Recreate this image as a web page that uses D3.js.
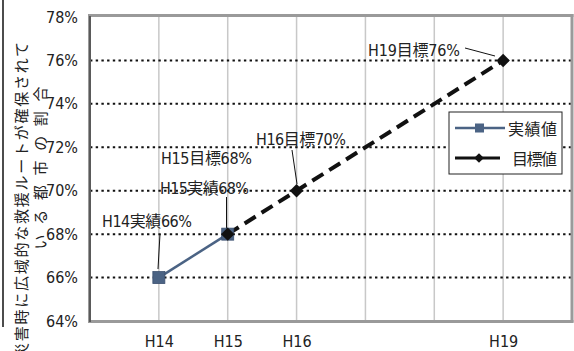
<!DOCTYPE html>
<html><head><meta charset="utf-8">
<script src="https://cdn.jsdelivr.net/npm/d3@7"></script>
<style>
body{margin:0;background:#fff;}
svg{display:block;}
text{font-family:"Liberation Sans Narrow","DejaVu Sans Condensed","Noto Sans CJK JP",sans-serif;fill:#222;}
.jp{font-family:"Noto Sans CJK JP",sans-serif;}
</style>
</head><body>
<svg id="c" width="574" height="351"></svg>
<script>
const categories = ["H14","H15","H16","H17","H18","H19"];
const tickLabels = ["H14","H15","H16","","","H19"];
const actualValues = [66, 68, null, null, null, null];
const targetValues = [null, 68, 70, null, null, 76];
const yTicks = [64,66,68,70,72,74,76,78];
const seriesNames = ["実績値","目標値"];
const titleLines = ["災害時に広域的な救援ルートが確保されて","いる都市の割合"];
const pointLabels = [
  {text:"H14実績66%", cat:"H14", v:66},
  {text:"H15実績68%", cat:"H15", v:68},
  {text:"H15目標68%", cat:"H15", v:68},
  {text:"H16目標70%", cat:"H16", v:70},
  {text:"H19目標76%", cat:"H19", v:76}
];

const svg = d3.select("#c");
const L=90, R=572, T=17, B=321;
const x = d3.scalePoint().domain(categories).range([L,R]).padding(1);
const y = d3.scaleLinear().domain([64,78]).range([B,T]);

// left black frame line
svg.append("line").attr("x1",3).attr("x2",3).attr("y1",0).attr("y2",327)
  .attr("stroke","#111").attr("stroke-width",1.5);

// vertical gridlines
svg.append("g").selectAll("line").data(categories).join("line")
  .attr("x1",d=>x(d)).attr("x2",d=>x(d)).attr("y1",T).attr("y2",B)
  .attr("stroke","#c8c8c8").attr("stroke-width",1.5);

// horizontal dotted gridlines
svg.append("g").selectAll("line").data(yTicks.slice(1,-1)).join("line")
  .attr("x1",L).attr("x2",R).attr("y1",d=>y(d)).attr("y2",d=>y(d))
  .attr("stroke","#111").attr("stroke-width",2).attr("stroke-dasharray","2.4,3.3");

// frame
svg.append("line").attr("x1",L-2).attr("x2",R+1.5).attr("y1",T-1.5).attr("y2",T-1.5).attr("stroke","#9a9a9a").attr("stroke-width",3);
svg.append("line").attr("x1",R).attr("x2",R).attr("y1",T-3).attr("y2",B+1.5).attr("stroke","#9a9a9a").attr("stroke-width",3);
svg.append("line").attr("x1",L-2).attr("x2",R+1.5).attr("y1",B+0.5).attr("y2",B+0.5).attr("stroke","#9a9a9a").attr("stroke-width",3);
svg.append("line").attr("x1",L-0.5).attr("x2",L-0.5).attr("y1",T-3).attr("y2",B+2).attr("stroke","#9a9a9a").attr("stroke-width",3);
svg.append("line").attr("x1",L).attr("x2",L).attr("y1",T-1).attr("y2",B+1).attr("stroke","#444").attr("stroke-width",1.5);

// y axis
const yAxis = d3.axisLeft(y).tickValues(yTicks).tickFormat(d=>d+"%").tickSize(0).tickPadding(12);
const gy = svg.append("g").attr("transform",`translate(${L},0)`).call(yAxis);
gy.select(".domain").remove();
gy.selectAll("text").attr("font-size",16).style("font-family",'"Liberation Sans Narrow","DejaVu Sans Condensed",sans-serif').attr("fill","#222");

// x axis
const xAxis = d3.axisBottom(x).tickFormat((d,i)=>tickLabels[i]).tickSize(0).tickPadding(15);
const gx = svg.append("g").attr("transform",`translate(0,${B})`).call(xAxis);
gx.select(".domain").remove();
gx.selectAll("text").attr("font-size",16).style("font-family",'"Liberation Sans Narrow","DejaVu Sans Condensed",sans-serif').attr("fill","#222");

// y title
const titlePos = [{cx:20, cy:200, len:316},{cx:39, cy:168, len:163}];
titleLines.forEach((t,i)=>{
  svg.append("text").attr("class","jp")
    .attr("transform",`translate(${titlePos[i].cx},${titlePos[i].cy}) rotate(-90)`)
    .attr("text-anchor","middle").attr("dominant-baseline","central")
    .attr("font-size",15).attr("textLength",titlePos[i].len).attr("lengthAdjust","spacing")
    .text(t);
});

// series
const actualPts = categories.map((c,i)=>({c,v:actualValues[i]})).filter(d=>d.v!=null);
const targetPts = categories.map((c,i)=>({c,v:targetValues[i]})).filter(d=>d.v!=null);
const line = d3.line().x(d=>x(d.c)).y(d=>y(d.v));
const actualColor = "#4b6384";

svg.append("path").datum(actualPts).attr("d",line).attr("fill","none")
  .attr("stroke",actualColor).attr("stroke-width",2.5);
svg.append("path").datum(targetPts).attr("d",line).attr("fill","none")
  .attr("stroke","#111").attr("stroke-width",4).attr("stroke-dasharray","13,7");

// leader lines
const leaders = [
  [[160,234],[158,269]],
  [[226.5,197],[226.5,230]],
  [[292,150],[297,184]],
  [[465,48],[495,56]]
];
svg.append("g").selectAll("path").data(leaders).join("path")
  .attr("d",d=>d3.line()(d)).attr("stroke","#111").attr("stroke-width",1).attr("fill","none");

svg.append("g").selectAll("rect").data(actualPts).join("rect")
  .attr("x",d=>x(d.c)-6).attr("y",d=>y(d.v)-6).attr("width",12).attr("height",12)
  .attr("fill",actualColor).attr("stroke","#3c5170").attr("stroke-width",0.8);
const diamond = d3.symbol().type(d3.symbolDiamond2).size(115);
svg.append("g").selectAll("path").data(targetPts).join("path")
  .attr("transform",d=>`translate(${x(d.c)},${y(d.v)})`).attr("d",diamond).attr("fill","#111");

// point labels
const labelPos = [
  {x:102, y:227, w:90},
  {x:160, y:194, w:89},
  {x:161, y:164, w:91},
  {x:256, y:145, w:90},
  {x:368, y:56, w:92}
];
pointLabels.forEach((p,i)=>{
  svg.append("text").attr("x",labelPos[i].x).attr("y",labelPos[i].y)
    .attr("font-size",16).attr("textLength",labelPos[i].w).attr("lengthAdjust","spacing")
    .text(p.text);
});

// legend
const lg = svg.append("g");
lg.append("rect").attr("x",449).attr("y",112).attr("width",113).attr("height",62)
  .attr("fill","#fff").attr("stroke","#222").attr("stroke-width",1);
const ly = [128,158];
lg.append("line").attr("x1",455).attr("x2",505).attr("y1",ly[0]).attr("y2",ly[0]).attr("stroke",actualColor).attr("stroke-width",2.5);
lg.append("rect").attr("x",475).attr("y",ly[0]-4.5).attr("width",9).attr("height",9).attr("fill",actualColor);
lg.append("line").attr("x1",455).attr("x2",500).attr("y1",ly[1]).attr("y2",ly[1]).attr("stroke","#111").attr("stroke-width",3);
lg.append("path").attr("transform",`translate(479,${ly[1]})`).attr("d",d3.symbol().type(d3.symbolDiamond2).size(60)).attr("fill","#111");
lg.append("text").attr("class","jp").attr("x",508).attr("y",ly[0]).attr("dominant-baseline","central")
  .attr("font-size",16).attr("textLength",49).attr("lengthAdjust","spacing").text(seriesNames[0]);
lg.append("text").attr("class","jp").attr("x",512).attr("y",ly[1]).attr("dominant-baseline","central")
  .attr("font-size",16).attr("textLength",45).attr("lengthAdjust","spacing").text(seriesNames[1]);
</script>
</body></html>
